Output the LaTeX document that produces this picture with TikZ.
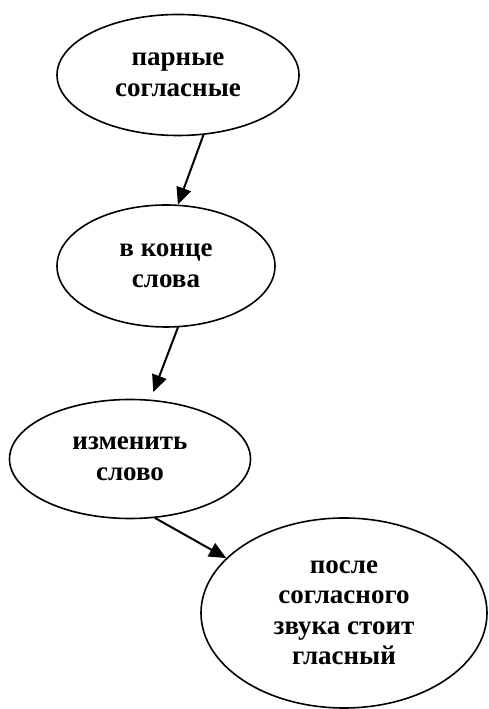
\documentclass[tikz,border=0pt]{standalone}
\usepackage{fontspec}
\setmainfont{Liberation Serif}
\usetikzlibrary{arrows.meta}
\usetikzlibrary{shapes.geometric}

\begin{document}
\begin{tikzpicture}[line cap=round,line join=round, x=1pt,y=1pt,
		oval/.style={draw=black, line width=1.6pt, ellipse, inner sep=0pt, align=center, font=\fontsize{27}{30.5}\selectfont\bfseries},
		link/.style={-{Triangle[length=17pt, width=15pt]}, line width=2pt, color=black}]
	\useasboundingbox (0,0) rectangle (488,709);
	\node[oval, minimum width=242pt, minimum height=121pt] (parnye) at (178,634) {парные\\согласные};
	\node[oval, minimum width=218pt, minimum height=122pt] (konec) at (166,443) {в конце\\слова};
	\node[oval, minimum width=241pt, minimum height=119pt] (izmenit) at (130,250) {изменить\\слово};
	\node[oval, minimum width=286pt, minimum height=190pt] (posle) at (344,96) {после\\согласного\\звука стоит\\гласный};
	\draw[link] (parnye.-67) -- (konec.79);
	\draw[link, shorten >=8pt] (konec.-79) -- (izmenit.71);
	\draw[link] (izmenit.-67) -- (posle.155);
\end{tikzpicture}
\end{document}
